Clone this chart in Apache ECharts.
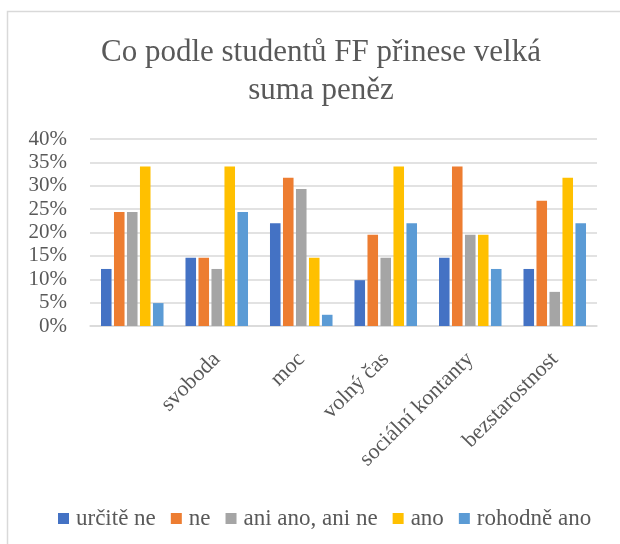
<!DOCTYPE html>
<html>
<head>
<meta charset="utf-8">
<script src="https://cdn.jsdelivr.net/npm/echarts@6/dist/echarts.min.js"></script>
<style>
  html, body { margin: 0; padding: 0; background: #fff; }
  #chart { width: 620px; height: 544px; }
</style>
</head>
<body>
<div id="chart"></div>
<script>
// categories (first one has no label in the original)
const categories = ['', 'svoboda', 'moc', 'volný čas', 'sociální kontanty', 'bezstarostnost']
const seriesNames = ['určitě ne', 'ne', 'ani ano, ani ne', 'ano', 'rohodně ano']
const colors = ['#4472C4', '#ED7D31', '#A5A5A5', '#FFC000', '#5B9BD5']

// values in %
const urciteNe = [12.2, 14.6, 22.0, 9.8, 14.6, 12.2]
const ne = [24.4, 14.6, 31.7, 19.5, 34.1, 26.8]
const aniAnoAniNe = [24.4, 12.2, 29.3, 14.6, 19.5, 7.3]
const ano = [34.1, 34.1, 14.6, 34.1, 19.5, 31.7]
const rozhodneAno = [4.9, 24.4, 2.4, 22.0, 12.2, 22.0]

const yTicks = [0, 5, 10, 15, 20, 25, 30, 35, 40]

const values = [urciteNe, ne, aniAnoAniNe, ano, rozhodneAno]
const font = 'Liberation Serif'
const textColor = '#595959'

const chart = echarts.init(document.getElementById('chart'))

chart.setOption({
  animation: false,
  textStyle: { fontFamily: font },
  title: {
    text: 'Co podle studentů FF přinese velká\nsuma peněz',
    left: 316,
    top: 29,
    textAlign: 'center',
    textStyle: { fontFamily: font, fontSize: 31, lineHeight: 38, fontWeight: 'normal', color: textColor }
  },
  graphic: [{
    type: 'rect',
    shape: { x: 7.5, y: 11.5, width: 700, height: 700 },
    style: { fill: 'none', stroke: '#d9d9d9', lineWidth: 1.5 },
    silent: true
  }],
  legend: {
    data: seriesNames,
    left: 53,
    top: 502,
    icon: 'rect',
    itemWidth: 11,
    itemHeight: 11,
    itemGap: 15,
    formatter: '{t|{name}}',
    textStyle: {
      fontFamily: font,
      fontSize: 23,
      color: textColor,
      rich: {
        t: { fontFamily: font, fontSize: 23, color: textColor, padding: [0, 0, 0, 2] }
      }
    }
  },
  grid: { left: 90, right: 23, top: 139, bottom: 218 },
  xAxis: {
    type: 'category',
    data: categories,
    axisLine: { lineStyle: { color: '#d9d9d9', width: 1.5 } },
    axisTick: { show: false },
    axisLabel: {
      rotate: 45,
      margin: 30,
      interval: 0,
      fontFamily: font,
      fontSize: 22,
      color: textColor
    }
  },
  yAxis: {
    type: 'value',
    min: yTicks[0],
    max: yTicks[yTicks.length - 1],
    interval: 5,
    axisLine: { show: false },
    axisTick: { show: false },
    splitLine: { lineStyle: { color: '#d9d9d9', width: 1.5 } },
    axisLabel: {
      formatter: '{value}%',
      margin: 23,
      fontFamily: font,
      fontSize: 21,
      color: textColor
    }
  },
  series: seriesNames.map((name, i) => ({
    name: name,
    type: 'bar',
    data: values[i],
    barGap: '23%',
    barCategoryGap: '26%',
    itemStyle: { color: colors[i] }
  }))
})
</script>
</body>
</html>
